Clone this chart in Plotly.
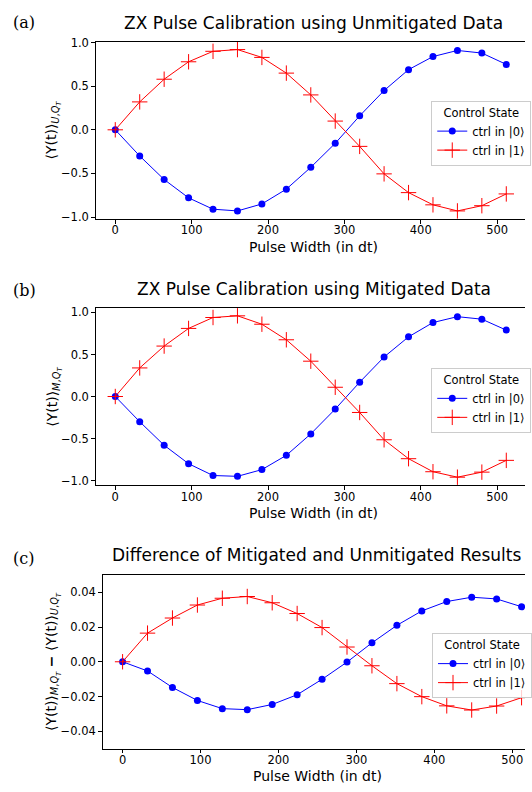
import plotly.graph_objects as go

# ---------------- data ----------------
pulse_widths = [0, 32, 64, 96, 128, 160, 192, 224, 256, 288, 320, 352, 384, 416, 448, 480, 512]

unmit_ctrl0 = [0.0, -0.30, -0.57, -0.78, -0.91, -0.93, -0.85, -0.68, -0.43, -0.155, 0.16, 0.45, 0.69, 0.84, 0.91, 0.88, 0.75]
unmit_ctrl1 = [0.0, 0.32, 0.58, 0.78, 0.90, 0.92, 0.83, 0.65, 0.40, 0.10, -0.19, -0.505, -0.72, -0.86, -0.93, -0.87, -0.735]

mit_ctrl0 = [0.0, -0.30, -0.58, -0.80, -0.94, -0.95, -0.87, -0.70, -0.445, -0.15, 0.17, 0.47, 0.71, 0.88, 0.95, 0.92, 0.79]
mit_ctrl1 = [0.0, 0.34, 0.60, 0.81, 0.94, 0.96, 0.86, 0.675, 0.42, 0.11, -0.19, -0.515, -0.74, -0.895, -0.96, -0.90, -0.76]

diff_ctrl0 = [0.0, -0.0053, -0.0148, -0.0223, -0.0270, -0.0276, -0.0246, -0.0190, -0.0101, -0.0002, 0.0109, 0.0210, 0.0293, 0.0347, 0.0372, 0.0362, 0.0317]
diff_ctrl1 = [0.0, 0.0165, 0.0252, 0.0327, 0.0366, 0.0376, 0.0340, 0.0278, 0.0197, 0.0085, -0.0023, -0.0126, -0.0201, -0.0254, -0.0278, -0.0255, -0.0207]

titles = ["ZX Pulse Calibration using Unmitigated Data",
          "ZX Pulse Calibration using Mitigated Data",
          "Difference of Mitigated and Unmitigated Results"]
panel_labels = ["(a)", "(b)", "(c)"]
y_labels = [
    "⟨Y(t)⟩<sub><i>U</i>,<i>Q<sub>T</sub></i></sub>",
    "⟨Y(t)⟩<sub><i>M</i>,<i>Q<sub>T</sub></i></sub>",
    "⟨Y(t)⟩<sub><i>M</i>,<i>Q<sub>T</sub></i></sub> <b>−</b> ⟨Y(t)⟩<sub><i>U</i>,<i>Q<sub>T</sub></i></sub>",
]
x_label = "Pulse Width (in dt)"
legend_title = "Control State"
series_names = ["ctrl in |0⟩", "ctrl in |1⟩"]
x_ticks = [0, 100, 200, 300, 400, 500]

# ---------------- layout helpers ----------------
W, H = 532, 792
FONT = "DejaVu Sans"


def fx(px):
    return px / W


def fy(py):
    return 1 - py / H


panels = [
    dict(c0=unmit_ctrl0, c1=unmit_ctrl1, xdom=(97, 532), ydom=(36, 216),
         xr=[-25.6, 536.5], yr=[-1.0225, 1.0125], dtick=0.5, fmt=".1f",
         leg=(437, 96), title_xy=(318, 17), lab_y=17, ylab_xy=(54, 126), xlab_xy=(318, 244)),
    dict(c0=mit_ctrl0, c1=mit_ctrl1, xdom=(97, 532), ydom=(306, 486),
         xr=[-25.6, 536.5], yr=[-1.056, 1.056], dtick=0.5, fmt=".1f",
         leg=(437, 367), title_xy=(318, 287), lab_y=288, ylab_xy=(54, 396), xlab_xy=(318, 514)),
    dict(c0=diff_ctrl0, c1=diff_ctrl1, xdom=(104, 532), ydom=(577, 753),
         xr=[-25.6, 516.4], yr=[-0.05, 0.05], dtick=0.02, fmt=".2f",
         leg=(438, 636), title_xy=(321, 557), lab_y=560, ylab_xy=(53, 665), xlab_xy=(322, 781)),
]

fig = go.Figure()
annotations = []
layout_axes = {}

for i, p in enumerate(panels):
    n = i + 1
    xa = "x" if n == 1 else f"x{n}"
    ya = "y" if n == 1 else f"y{n}"
    leg = "legend" if n == 1 else f"legend{n}"

    fig.add_trace(go.Scatter(
        x=pulse_widths, y=p["c0"], mode="lines+markers", name=series_names[0],
        xaxis=xa, yaxis=ya, legend=leg,
        line=dict(color="#0000ff", width=1),
        marker=dict(symbol="circle", size=7, color="#0000ff"),
    ))
    fig.add_trace(go.Scatter(
        x=pulse_widths, y=p["c1"], mode="lines+markers", name=series_names[1],
        xaxis=xa, yaxis=ya, legend=leg,
        line=dict(color="#ff0000", width=1),
        marker=dict(symbol="cross-thin", size=11, color="#ff0000",
                    line=dict(color="#ff0000", width=1)),
    ))

    xk = "xaxis" if n == 1 else f"xaxis{n}"
    yk = "yaxis" if n == 1 else f"yaxis{n}"
    layout_axes[xk] = dict(
        domain=[fx(p["xdom"][0]), fx(p["xdom"][1])], anchor=ya, range=p["xr"],
        tickvals=x_ticks, showline=True, linecolor="black", linewidth=1, mirror=True,
        ticks="outside", ticklen=3.5, tickwidth=1, tickcolor="black",
        ticklabelstandoff=-3,
        showgrid=False, zeroline=False,
        tickfont=dict(family=FONT, size=11.5, color="black"),
    )
    layout_axes[yk] = dict(
        domain=[fy(p["ydom"][1]), fy(p["ydom"][0])], anchor=xa, range=p["yr"],
        dtick=p["dtick"], tick0=0, tickformat=p["fmt"],
        showline=True, linecolor="black", linewidth=1,
        ticks="outside", ticklen=3.5, tickwidth=1, tickcolor="black",
        showgrid=False, zeroline=False,
        tickfont=dict(family=FONT, size=11.5, color="black"),
    )
    layout_axes[leg] = dict(
        x=fx(p["leg"][0]), y=fy(p["leg"][1]), xanchor="left", yanchor="top",
        bgcolor="rgba(255,255,255,0.8)", bordercolor="#cccccc", borderwidth=1,
        font=dict(family=FONT, size=11.5, color="black"),
        title=dict(text=legend_title, side="top center",
                   font=dict(family=FONT, size=11.5, color="black")),
        itemwidth=30, tracegroupgap=0,
    )

    annotations.append(dict(
        text=titles[i], x=fx(p["title_xy"][0]), y=fy(p["title_xy"][1]),
        xref="paper", yref="paper", xanchor="center", yanchor="middle",
        showarrow=False, font=dict(family=FONT, size=17, color="black")))
    annotations.append(dict(
        text=panel_labels[i], x=fx(11), y=fy(p["lab_y"]),
        xref="paper", yref="paper", xanchor="left", yanchor="middle",
        showarrow=False, font=dict(family="DejaVu Serif", size=16, color="black")))
    annotations.append(dict(
        text=y_labels[i], x=fx(p["ylab_xy"][0]), y=fy(p["ylab_xy"][1]),
        xref="paper", yref="paper", xanchor="center", yanchor="middle",
        textangle=-90, showarrow=False, font=dict(family=FONT, size=14, color="black")))
    annotations.append(dict(
        text=x_label, x=fx(p["xlab_xy"][0]), y=fy(p["xlab_xy"][1]),
        xref="paper", yref="paper", xanchor="center", yanchor="middle",
        showarrow=False, font=dict(family=FONT, size=14, color="black")))

fig.update_layout(
    width=W, height=H, autosize=False,
    margin=dict(l=0, r=0, t=0, b=0),
    paper_bgcolor="white", plot_bgcolor="white",
    showlegend=True,
    annotations=annotations,
    font=dict(family=FONT, color="black"),
    **layout_axes,
)

fig.write_html("out.html", config={"displayModeBar": False})
